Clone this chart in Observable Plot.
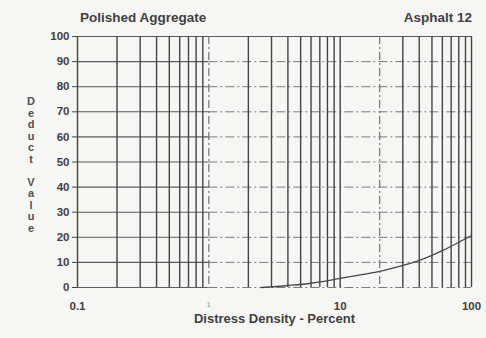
<!DOCTYPE html>
<html>
<head>
<meta charset="utf-8">
<script src="https://cdn.jsdelivr.net/npm/d3@7"></script>
<script src="https://cdn.jsdelivr.net/npm/@observablehq/plot@0.6"></script>
<style>
  body { margin: 0; background: #fbfbfa; }
  #chart { position: relative; width: 486px; height: 338px; background: #f6f6f4;
           font-family: "Liberation Sans", Arial, sans-serif; color: #404040; }
  #chart svg { position: absolute; left: 0; top: 0; }
  .hdr { position: absolute; top: 10px; font-weight: bold; font-size: 13.5px; }
  #ylabel { position: absolute; left: 24px; top: 96px; width: 14px; text-align: center;
            font-weight: bold; font-size: 11px; line-height: 11.5px; color: #505050; }
</style>
</head>
<body>
<div id="chart">
  <div class="hdr" style="left:80px">Polished Aggregate</div>
  <div class="hdr" style="right:14px">Asphalt 12</div>
</div>
<script>
// Deduct curve for polished aggregate, asphalt pavement
const density = [2.5, 4, 6, 10, 15, 20, 30, 40, 60, 80, 100];
const deduct  = [0, 0.8, 1.7, 3.6, 5.2, 6.4, 8.8, 10.8, 14.7, 18, 20.7];

// Log-paper rulings and axis ticks
const gridX = [0.2, 0.3, 0.4, 0.5, 0.6, 0.7, 0.8, 0.9,
               2, 3, 4, 5, 6, 7, 8, 9,
               30, 40, 50, 60, 70, 80, 90];
const gridXBroken = [1, 20];
const gridY = [10, 20, 30, 40, 50, 60, 70, 80, 90];
const yTicks = [0, 10, 20, 30, 40, 50, 60, 70, 80, 90, 100];
const xTicksBold = [0.1, 10, 100];
const xTickFaint = [1];
const yLabel = "Deduct Value";

const curve = density.map((d, i) => ({density: d, deduct: deduct[i]}));

const plot = Plot.plot({
  width: 486,
  height: 338,
  marginLeft: 77,
  marginRight: 15,
  marginTop: 36,
  marginBottom: 51,
  style: {background: "transparent", fontFamily: "Liberation Sans, Arial, sans-serif"},
  x: {type: "log", domain: [0.1, 100]},
  y: {domain: [0, 100]},
  marks: [
    // horizontal rulings: solid on the first decade, broken beyond
    Plot.ruleY(gridY, {x1: 0.1, x2: 1, stroke: "#5a5a5a", strokeWidth: 1.1}),
    Plot.ruleY(gridY, {x1: 1, x2: 100, stroke: "#7a7a7a", strokeWidth: 1, strokeDasharray: "9,3,2,3"}),
    Plot.ruleY([0], {x1: 0.1, x2: 1, stroke: "#5a5a5a", strokeWidth: 1.1}),
    Plot.ruleY([0], {x1: 1, x2: 100, stroke: "#7a7a7a", strokeWidth: 1, strokeDasharray: "9,3,2,3"}),
    Plot.ruleY([100], {x1: 0.1, x2: 100, stroke: "#5a5a5a", strokeWidth: 1.1}),
    // vertical rulings
    Plot.ruleX(gridX, {stroke: "#444", strokeWidth: 1.4}),
    Plot.ruleX(gridXBroken, {stroke: "#707070", strokeWidth: 1.2, strokeDasharray: "8,3,2,3"}),
    Plot.ruleX([0.1, 10, 100], {stroke: "#444", strokeWidth: 1.4}),
    // the deduct curve
    Plot.line(curve, {x: "density", y: "deduct", curve: "monotone-x", stroke: "#474747", strokeWidth: 1.3}),
    // axes
    Plot.axisY(yTicks, {tickSize: 5, tickPadding: 3, stroke: "#444", label: null,
      fill: "#404040", fontSize: 11.5, fontWeight: "bold"}),
    Plot.axisX(xTicksBold, {tickSize: 0, tickPadding: 14, label: null, tickFormat: d => String(d),
      fill: "#404040", fontSize: 11.5, fontWeight: "bold"}),
    Plot.axisX(xTickFaint, {tickSize: 0, tickPadding: 14, label: null, tickFormat: d => String(d),
      fill: "#999", fontSize: 8}),
    Plot.text(["Distress Density - Percent"], {frameAnchor: "bottom", dy: 35,
      fill: "#404040", fontSize: 13, fontWeight: "bold"})
  ]
});

const chart = document.getElementById("chart");
chart.appendChild(plot);

// stacked vertical axis title
const yl = document.createElement("div");
yl.id = "ylabel";
yl.innerHTML = Array.from(yLabel).map(c => c === " " ? "&nbsp;" : c).join("<br>");
chart.appendChild(yl);
</script>
</body>
</html>
